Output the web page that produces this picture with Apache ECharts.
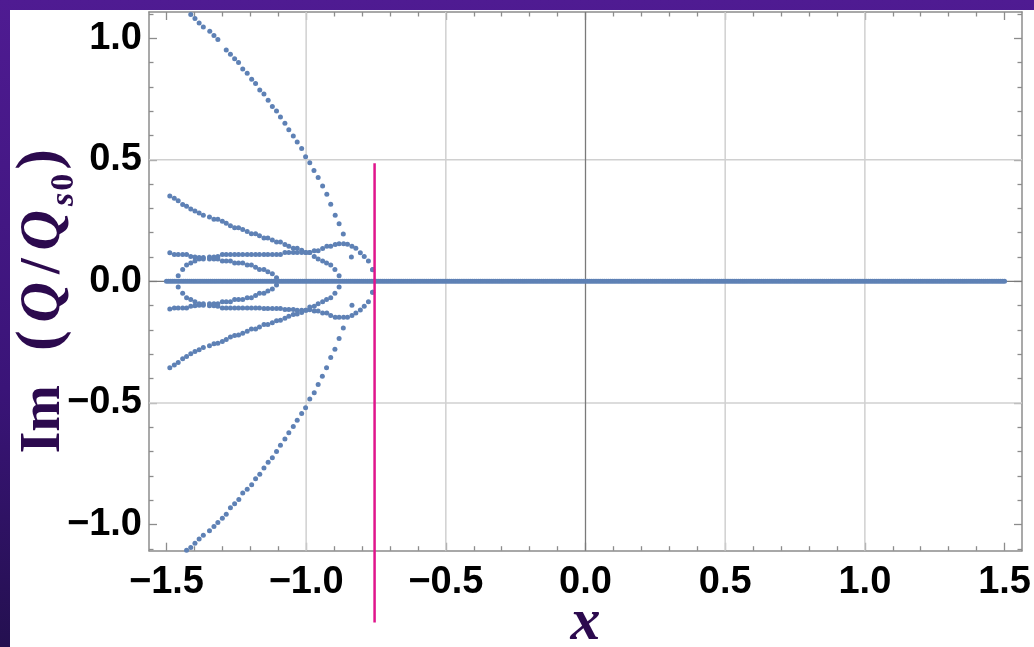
<!DOCTYPE html>
<html>
<head>
<meta charset="utf-8">
<script src="https://cdn.jsdelivr.net/npm/echarts@6/dist/echarts.min.js"></script>
<style>
  html, body { margin: 0; padding: 0; width: 1034px; height: 647px; overflow: hidden;
    background: linear-gradient(180deg, #4f1b92 0%, #3a1478 60%, #241050 100%); }
  #chart { position: absolute; left: 10px; top: 10px; width: 1024px; height: 637px; background: #ffffff; }
</style>
</head>
<body>
<div id="chart"></div>
<script>
// ---------- data ----------
const xRange = [-1.5625, 1.5625];
const yRange = [-1.108, 1.108];
const xMajorTicks = [-1.5, -1.0, -0.5, 0.0, 0.5, 1.0, 1.5];
const yMajorTicks = [-1.0, -0.5, 0.0, 0.5, 1.0];
const xMinorTicks = [-1.4,-1.3,-1.2,-1.1,-0.9,-0.8,-0.7,-0.6,-0.4,-0.3,-0.2,-0.1,0.1,0.2,0.3,0.4,0.6,0.7,0.8,0.9,1.1,1.2,1.3,1.4];
const yMinorTicks = [-1.1,-0.9,-0.8,-0.7,-0.6,-0.4,-0.3,-0.2,-0.1,0.1,0.2,0.3,0.4,0.6,0.7,0.8,0.9,1.1];
const xGridValues = [-1.0, -0.5, 0.5, 1.0];
const yGridValues = [-0.5, 0.5];

// real roots: Im = 0 along the whole range
const zeroLineRange = [-1.5, 1.5];
const zeroLineStep = 0.0075;
const zeroLineValue = 0;

const bigUpper = [[-1.413,1.098],[-1.398,1.081],[-1.383,1.063],[-1.368,1.046],[-1.345,1.029],[-1.330,1.011],[-1.316,0.995],[-1.286,0.952],[-1.271,0.934],[-1.256,0.916],[-1.242,0.900],[-1.227,0.874],[-1.211,0.856],[-1.195,0.831],[-1.181,0.814],[-1.166,0.787],[-1.151,0.771],[-1.136,0.745],[-1.121,0.719],[-1.106,0.701],[-1.092,0.676],[-1.076,0.650],[-1.062,0.624],[-1.046,0.598],[-1.032,0.573],[-1.016,0.547],[-1.002,0.513],[-0.987,0.488],[-0.972,0.456],[-0.957,0.427],[-0.941,0.392],[-0.926,0.358],[-0.912,0.317],[-0.896,0.272],[-0.882,0.237],[-0.867,0.195],[-0.838,0.100],[-0.762,0.049]];
const bigLower = [[-1.428,-1.106],[-1.413,-1.095],[-1.398,-1.077],[-1.383,-1.060],[-1.368,-1.044],[-1.346,-1.026],[-1.330,-1.008],[-1.316,-0.992],[-1.300,-0.974],[-1.286,-0.958],[-1.271,-0.931],[-1.256,-0.915],[-1.241,-0.897],[-1.227,-0.871],[-1.211,-0.855],[-1.195,-0.837],[-1.181,-0.812],[-1.166,-0.794],[-1.151,-0.768],[-1.136,-0.744],[-1.121,-0.726],[-1.106,-0.700],[-1.092,-0.674],[-1.076,-0.649],[-1.062,-0.623],[-1.046,-0.597],[-1.032,-0.571],[-1.016,-0.544],[-1.002,-0.520],[-0.987,-0.484],[-0.971,-0.458],[-0.957,-0.424],[-0.942,-0.390],[-0.927,-0.355],[-0.912,-0.313],[-0.897,-0.279],[-0.882,-0.235],[-0.867,-0.192],[-0.836,-0.098],[-0.762,-0.045]];
const outerUpper = [[-1.488,0.351],[-1.472,0.342],[-1.458,0.332],[-1.442,0.316],[-1.428,0.309],[-1.413,0.298],[-1.398,0.289],[-1.383,0.281],[-1.368,0.272],[-1.346,0.265],[-1.330,0.255],[-1.316,0.255],[-1.300,0.247],[-1.286,0.239],[-1.271,0.229],[-1.256,0.221],[-1.242,0.221],[-1.227,0.213],[-1.211,0.205],[-1.196,0.196],[-1.181,0.196],[-1.167,0.188],[-1.151,0.178],[-1.137,0.178],[-1.121,0.170],[-1.106,0.162],[-1.092,0.162],[-1.076,0.152],[-1.062,0.144],[-1.046,0.136],[-1.032,0.136],[-1.016,0.128],[-1.001,0.119],[-0.987,0.119],[-0.971,0.102],[-0.957,0.092],[-0.941,0.084],[-0.927,0.075],[-0.912,0.067],[-0.897,0.049],[-0.882,0.023]];
const outerLower = [[-1.488,-0.355],[-1.472,-0.344],[-1.458,-0.334],[-1.442,-0.318],[-1.428,-0.309],[-1.413,-0.298],[-1.398,-0.289],[-1.383,-0.281],[-1.368,-0.272],[-1.346,-0.265],[-1.330,-0.257],[-1.316,-0.255],[-1.300,-0.247],[-1.286,-0.239],[-1.271,-0.229],[-1.256,-0.223],[-1.242,-0.221],[-1.227,-0.213],[-1.211,-0.205],[-1.196,-0.196],[-1.181,-0.196],[-1.167,-0.188],[-1.151,-0.178],[-1.137,-0.178],[-1.121,-0.170],[-1.106,-0.162],[-1.092,-0.160],[-1.076,-0.152],[-1.062,-0.144],[-1.046,-0.136],[-1.032,-0.134],[-1.016,-0.128],[-1.001,-0.119],[-0.987,-0.117],[-0.971,-0.102],[-0.957,-0.092],[-0.941,-0.084],[-0.927,-0.075],[-0.912,-0.067],[-0.897,-0.049],[-0.882,-0.023]];
const innerUpper = [[-1.488,0.118],[-1.472,0.110],[-1.458,0.110],[-1.442,0.110],[-1.428,0.110],[-1.413,0.102],[-1.398,0.100],[-1.383,0.098],[-1.368,0.098],[-1.346,0.100],[-1.330,0.100],[-1.316,0.102],[-1.300,0.110],[-1.286,0.110],[-1.271,0.110],[-1.256,0.110],[-1.242,0.110],[-1.227,0.110],[-1.211,0.110],[-1.196,0.110],[-1.181,0.110],[-1.167,0.110],[-1.151,0.110],[-1.137,0.110],[-1.121,0.110],[-1.106,0.110],[-1.092,0.110],[-1.076,0.119],[-1.062,0.119],[-1.046,0.119],[-1.032,0.119],[-1.016,0.119],[-1.001,0.119],[-0.987,0.119],[-0.971,0.126],[-0.957,0.126],[-0.941,0.135],[-0.926,0.144],[-0.912,0.144],[-0.896,0.152],[-0.882,0.155],[-0.866,0.155],[-0.852,0.153],[-0.836,0.144],[-0.822,0.136],[-0.806,0.118],[-0.792,0.102],[-0.777,0.084],[-0.762,0.048]];
const innerLower = [[-1.488,-0.114],[-1.472,-0.110],[-1.458,-0.110],[-1.442,-0.110],[-1.428,-0.110],[-1.413,-0.102],[-1.398,-0.100],[-1.383,-0.098],[-1.368,-0.098],[-1.346,-0.100],[-1.330,-0.100],[-1.316,-0.102],[-1.300,-0.110],[-1.286,-0.110],[-1.271,-0.110],[-1.256,-0.110],[-1.242,-0.110],[-1.227,-0.110],[-1.211,-0.110],[-1.196,-0.110],[-1.181,-0.110],[-1.167,-0.110],[-1.151,-0.112],[-1.137,-0.112],[-1.121,-0.112],[-1.106,-0.112],[-1.092,-0.112],[-1.076,-0.116],[-1.062,-0.116],[-1.046,-0.116],[-1.032,-0.119],[-1.016,-0.119],[-1.001,-0.119],[-0.987,-0.106],[-0.971,-0.122],[-0.957,-0.122],[-0.941,-0.130],[-0.926,-0.130],[-0.912,-0.140],[-0.896,-0.148],[-0.882,-0.148],[-0.866,-0.148],[-0.852,-0.148],[-0.836,-0.140],[-0.822,-0.130],[-0.806,-0.118],[-0.792,-0.102],[-0.777,-0.084],[-0.762,-0.045]];
const loopUpper = [[-1.458,0.023],[-1.442,0.049],[-1.428,0.067],[-1.413,0.075],[-1.398,0.084],[-1.383,0.092],[-1.368,0.092],[-1.346,0.092],[-1.330,0.092],[-1.316,0.092],[-1.300,0.084],[-1.286,0.084],[-1.271,0.084],[-1.256,0.075],[-1.242,0.075],[-1.227,0.075],[-1.211,0.067],[-1.196,0.067],[-1.181,0.058],[-1.167,0.049],[-1.151,0.049],[-1.137,0.040],[-1.121,0.031],[-1.106,0.015]];
const loopLower = [[-1.458,-0.023],[-1.442,-0.049],[-1.428,-0.067],[-1.413,-0.075],[-1.398,-0.084],[-1.383,-0.092],[-1.368,-0.092],[-1.346,-0.092],[-1.330,-0.092],[-1.316,-0.092],[-1.300,-0.084],[-1.286,-0.084],[-1.271,-0.084],[-1.256,-0.075],[-1.242,-0.075],[-1.227,-0.075],[-1.211,-0.067],[-1.196,-0.067],[-1.181,-0.058],[-1.167,-0.049],[-1.151,-0.049],[-1.137,-0.040],[-1.121,-0.031],[-1.106,-0.015]];

// magenta marker line
const markerX = -0.755;
const markerY = [0.486, -1.403];

// ---------- build ----------
const zeroLine = [];
for (let x = zeroLineRange[0]; x <= zeroLineRange[1] + 1e-9; x += zeroLineStep) zeroLine.push([+x.toFixed(4), zeroLineValue]);

const FRAME = '#8c8c8c';
const GRID = '#d0d0d0';
const ZERO = '#7a7a7a';
const DOT = '#5e81b5';
const LABEL_FONT = 'Liberation Sans, Arial, sans-serif';
const SERIF = 'Liberation Serif, DejaVu Serif, serif';
const TITLE_COLOR = '#2c0a4e';

function fmt(v) { return (v < 0 ? '\u2212' : '') + Math.abs(v).toFixed(1); }

function axisBase(dim, pos, ticks, len, labels, lineShow) {
  const a = {
    type: 'value', gridIndex: 0, position: pos,
    min: dim === 'x' ? xRange[0] : yRange[0],
    max: dim === 'x' ? xRange[1] : yRange[1],
    axisLine: { show: lineShow, onZero: false, lineStyle: { color: FRAME, width: 1.5 } },
    axisTick: { show: true, inside: true, length: len, customValues: ticks, lineStyle: { color: FRAME, width: 1.3 } },
    axisLabel: { show: false },
    splitLine: { show: false },
    minorTick: { show: false }
  };
  if (labels) {
    a.axisLabel = {
      show: true, customValues: ticks, formatter: fmt,
      fontFamily: LABEL_FONT, fontWeight: 'bold', fontSize: 38, color: '#000',
      margin: dim === 'x' ? 13 : 7
    };
  }
  return a;
}

const xAxes = [
  axisBase('x', 'bottom', xMajorTicks, 8, true, true),
  axisBase('x', 'bottom', xMinorTicks, 4.5, false, false),
  axisBase('x', 'top', xMajorTicks, 8, false, true),
  axisBase('x', 'top', xMinorTicks, 4.5, false, false)
];
xAxes[0].name = 'x';
xAxes[0].nameLocation = 'middle';
xAxes[0].nameGap = 43;
xAxes[0].nameMoveOverlap = false;
xAxes[0].nameTextStyle = { fontFamily: SERIF, fontStyle: 'italic', fontWeight: 'bold', fontSize: 60, color: TITLE_COLOR };

const yAxes = [
  axisBase('y', 'left', yMajorTicks, 8, true, true),
  axisBase('y', 'left', yMinorTicks, 4.5, false, false),
  axisBase('y', 'right', yMajorTicks, 8, false, true),
  axisBase('y', 'right', yMinorTicks, 4.5, false, false)
];
yAxes[0].name = '{a|Im}{p|(}{q|Q}{sl|/}{q|Q}{si|s}{sz|0}{pr|)}';
yAxes[0].nameLocation = 'middle';
yAxes[0].nameRotate = 90;
yAxes[0].nameGap = 76;
yAxes[0].nameMoveOverlap = false;
const base = { fontFamily: SERIF, fontWeight: 'bold', color: TITLE_COLOR, lineHeight: 64, verticalAlign: 'bottom' };
yAxes[0].nameTextStyle = {
  color: TITLE_COLOR, padding: [0, 40, 0, 0],
  rich: {
    a: Object.assign({}, base, { fontSize: 56 }),
    p: Object.assign({}, base, { fontSize: 62, padding: [0, 8, 0, 34] }),
    q: Object.assign({}, base, { fontSize: 56, fontStyle: 'italic' }),
    sl: Object.assign({}, base, { fontSize: 56, padding: [0, 8, 0, 8] }),
    si: Object.assign({}, base, { fontSize: 34, fontStyle: 'italic', padding: [0, 2, -8, 4] }),
    sz: Object.assign({}, base, { fontSize: 34, padding: [0, 4, -8, 0] }),
    pr: Object.assign({}, base, { fontSize: 62 })
  }
};

const series = [];
function gridLine(data, color, width) {
  series.push({ type: 'line', data: data, xAxisIndex: 0, yAxisIndex: 0, symbol: 'none', silent: true, z: 1,
    lineStyle: { color: color, width: width }, animation: false });
}
xGridValues.forEach(v => gridLine([[v, yRange[0]], [v, yRange[1]]], GRID, 1.5));
yGridValues.forEach(v => gridLine([[xRange[0], v], [xRange[1], v]], GRID, 1.5));
gridLine([[0, yRange[0]], [0, yRange[1]]], ZERO, 1.3);
gridLine([[xRange[0], 0], [xRange[1], 0]], ZERO, 1.3);

[zeroLine, bigUpper, bigLower, outerUpper, outerLower, innerUpper, innerLower, loopUpper, loopLower].forEach(d => {
  series.push({ type: 'scatter', data: d, xAxisIndex: 0, yAxisIndex: 0, symbol: 'circle', symbolSize: 5,
    itemStyle: { color: DOT, opacity: 1 }, z: 3, animation: false });
});

series.push({ type: 'line', data: [[markerX, markerY[0]], [markerX, markerY[1]]], xAxisIndex: 0, yAxisIndex: 0,
  symbol: 'none', clip: false, z: 4, lineStyle: { color: '#e0158c', width: 2.5 }, animation: false });

const chart = echarts.init(document.getElementById('chart'), null, { renderer: 'canvas' });
chart.setOption({
  animation: false,
  backgroundColor: '#ffffff',
  grid: { left: 139, right: 12, top: 2, bottom: 96.3, containLabel: false, outerBoundsMode: 'none' },
  xAxis: xAxes,
  yAxis: yAxes,
  series: series
});
</script>
</body>
</html>
